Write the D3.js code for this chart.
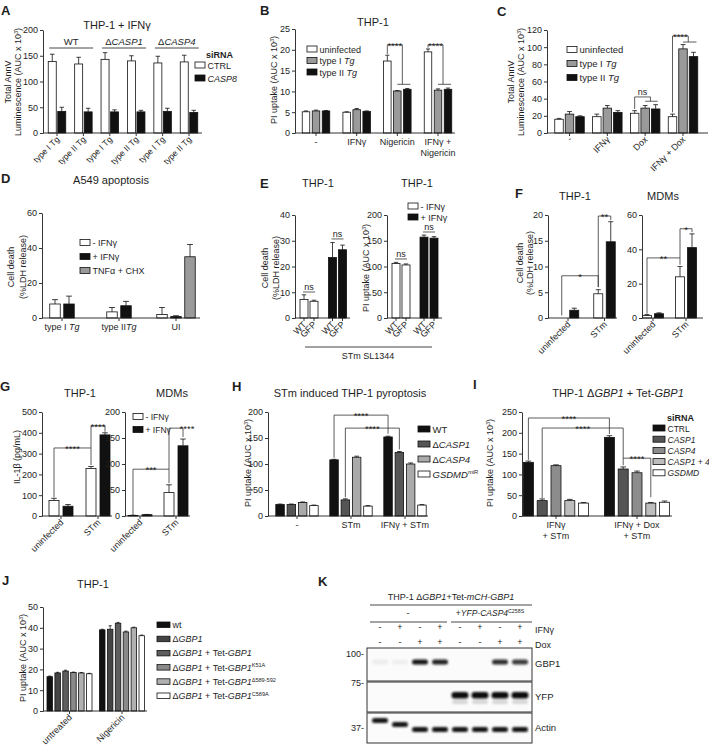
<!DOCTYPE html>
<html>
<head>
<meta charset="utf-8">
<script src="https://cdn.jsdelivr.net/npm/d3@7"></script>
<style>body{margin:0;background:#fff}</style>
</head>
<body>
<script>
// ---------------- data ----------------

// A - THP-1 + IFNg, total AnnV luminescence
const aGenotypes = ["WT", "Δ<i>CASP1</i>", "Δ<i>CASP4</i>"];
const aCategories = ["type I Tg", "type II Tg", "type I Tg", "type II Tg", "type I Tg", "type II Tg"];
const aCtrl = [139, 134, 143, 140, 136, 138];
const aCtrlErr = [14, 13, 13, 10, 13, 13];
const aCasp8 = [42, 41, 41, 41, 42, 40];
const aCasp8Err = [8, 7, 4, 3, 6, 4];

// B - THP-1 PI uptake
const bGroups = ["-", "IFNγ", "Nigericin", "IFNγ +\nNigericin"];
const bUninf = [5.1, 5.0, 17.3, 19.5];
const bUninfErr = [0.2, 0.1, 1.4, 0.7];
const bType1 = [5.3, 5.6, 10.1, 10.3];
const bType1Err = [0.2, 0.3, 0.1, 0.3];
const bType2 = [5.3, 5.2, 10.5, 10.5];
const bType2Err = [0.1, 0.1, 0.2, 0.3];

// C - total AnnV luminescence
const cGroups = ["-", "IFNγ", "Dox", "IFNγ + Dox"];
const cUninf = [16, 19, 23, 19];
const cUninfErr = [1, 3, 3, 3];
const cType1 = [22, 29, 29, 98];
const cType1Err = [3, 3, 3, 5];
const cType2 = [19, 24, 28, 89];
const cType2Err = [1, 2, 5, 5];

// D - A549 apoptosis
const dGroups = ["type I <i>Tg</i>", "type II<i>Tg</i>", "UI"];
const dMinus = [8, 3.5, 2];
const dMinusErr = [2.5, 2.5, 4];
const dPlus = [8, 7, 0.8];
const dPlusErr = [4.5, 2.5, 0.5];
const dTnf = [null, null, 35];
const dTnfErr = [null, null, 7];

// E - STm SL1344 WT vs GFP
const eConditions = ["- IFNγ", "+ IFNγ"];
const eStrains = ["WT", "GFP"];
const eLdhWT = [7.2, 23.5], eLdhWTErr = [1.8, 5.8];
const eLdhGFP = [6.5, 26.5], eLdhGFPErr = [0.4, 1.8];
const ePiWT = [106, 157], ePiWTErr = [2, 4];
const ePiGFP = [103, 155], ePiGFPErr = [2, 3];

// F - cell death, THP-1 and MDMs
const fGroups = ["uninfected", "STm"];
const fThpMinus = [0, 4.7], fThpMinusErr = [0, 0.8];
const fThpPlus = [1.5, 14.8], fThpPlusErr = [0.4, 3.9];
const fMdmMinus = [1.5, 24], fMdmMinusErr = [0.5, 6];
const fMdmPlus = [2.5, 41], fMdmPlusErr = [0.5, 8];

// G - IL-1b
const gGroups = ["uninfected", "STm"];
const gThpMinus = [75, 228], gThpMinusErr = [10, 10];
const gThpPlus = [47, 390], gThpPlusErr = [8, 10];
const gMdmMinus = [1, 45], gMdmMinusErr = [0.5, 15];
const gMdmPlus = [2.5, 135], gMdmPlusErr = [0.5, 13];

// H - STm induced THP-1 pyroptosis
const hGroups = ["-", "STm", "IFNγ + STm"];
const hWT = [22, 108, 152], hWTErr = [1, 1, 1.5];
const hCasp1 = [22, 31, 122], hCasp1Err = [1, 2, 2];
const hCasp4 = [26, 113, 100], hCasp4Err = [1, 2, 2];
const hGsdmd = [20, 19, 21], hGsdmdErr = [1, 1, 1];

// I - THP-1 dGBP1 + Tet-GBP1, siRNA
const iGroups = ["IFNγ\n+ STm", "IFNγ + Dox\n+ STm"];
const iCtrl = [129, 189], iCtrlErr = [3, 4];
const iCasp1 = [37, 113], iCasp1Err = [4, 5];
const iCasp4 = [121, 104], iCasp4Err = [2, 4];
const iCasp14 = [37, 31], iCasp14Err = [3, 1.5];
const iGsdmd = [31, 33], iGsdmdErr = [1.5, 3];

// J - THP-1 PI uptake, GBP1 mutants
const jGroups = ["untreated", "Nigericin"];
const jWt = [16.5, 39], jWtErr = [0.3, 0.3];
const jKo = [18.3, 39.3], jKoErr = [0.3, 1.7];
const jTet = [19.2, 42.2], jTetErr = [0.4, 0.4];
const jK51A = [18.5, 38], jK51AErr = [0.2, 0.4];
const jD589 = [18.3, 40], jD589Err = [0.2, 0.3];
const jC589A = [17.9, 36.2], jC589AErr = [0.2, 0.3];

// K - western blot
const kIfng = ["-", "+", "-", "+", "-", "+", "-", "+"];
const kDox = ["-", "-", "+", "+", "-", "-", "+", "+"];
const kGbp1 = [0.06, 0.05, 1, 0.95, 0, 0, 0.9, 0.85];
const kYfp = [0, 0, 0, 0, 1, 1, 1, 1];
const kActin = [1, 1, 1, 1, 1, 1, 1, 1];
const kActinKDa = [40, 38.7, 37, 37, 37, 37, 37, 37];

// ---------------- drawing ----------------
const FONT = "'Liberation Sans', Arial, Helvetica, sans-serif";
const INK = "#1e1e1e";
const WHITE = "#ffffff", BLACK = "#111111", GRAY = "#9a9a9a";
const FS = 9; // base font size

const svg = d3.select("body").append("svg")
  .attr("width", 709).attr("height", 751)
  .style("font-family", FONT);
svg.append("rect").attr("width", 709).attr("height", 751).attr("fill", "#fff");

// text with <i> and <sup> markup
function rich(sel, str) {
  const parts = str.split(/(<\/?(?:i|sup)>)/).filter(s => s !== "");
  let italic = false, sup = false, dy = 0;
  parts.forEach(p => {
    if (p === "<i>") italic = true;
    else if (p === "</i>") italic = false;
    else if (p === "<sup>") { sup = true; dy = -3.3; }
    else if (p === "</sup>") { sup = false; dy = 3.3; }
    else {
      const t = sel.append("tspan").text(p);
      if (italic) t.style("font-style", "italic");
      if (sup) t.attr("font-size", "0.62em");
      if (dy) { t.attr("dy", dy); dy = 0; }
    }
  });
  return sel;
}

function label(parent, x, y, str, o = {}) {
  const t = parent.append("text")
    .attr("x", x).attr("y", y)
    .attr("font-size", o.size || FS)
    .attr("text-anchor", o.anchor || "start")
    .attr("fill", INK);
  if (o.weight) t.attr("font-weight", o.weight);
  if (o.rotate) t.attr("transform", `rotate(${o.rotate},${x},${y})`);
  return rich(t, str);
}

function legend(parent, x, y, dy, items, o = {}) {
  const bw = o.bw || 10, bh = o.bh || 6;
  items.forEach((it, i) => {
    const yy = y + i * dy;
    parent.append("rect")
      .attr("x", x).attr("y", yy - bh - 0.5).attr("width", bw).attr("height", bh)
      .attr("fill", it.fill).attr("stroke", BLACK).attr("stroke-width", 0.8);
    label(parent, x + bw + 2.5, yy, it.label, { size: o.size || FS });
  });
}

function barPanel(c) {
  const g = svg.append("g");
  const n = c.groups.length;
  const x = d3.scalePoint().domain(d3.range(n)).range(c.centers);
  const y = d3.scaleLinear().domain([0, c.max]).range([c.y0, c.y1]);

  const cx = (gi, si) => {
    const ks = c.series.map((s, k) => k).filter(k => c.series[k].values[gi] != null);
    return x(gi) + (ks.indexOf(si) - (ks.length - 1) / 2) * c.step;
  };

  const flat = [];
  c.series.forEach((s, si) => s.values.forEach((v, gi) => {
    if (v == null) return;
    flat.push({ gi, si, v, e: s.errs[gi], fill: Array.isArray(s.fill) ? s.fill[gi] : s.fill });
  }));

  g.selectAll("rect.bar").data(flat).join("rect")
    .attr("class", "bar")
    .attr("x", d => cx(d.gi, d.si) - c.barW / 2)
    .attr("width", c.barW)
    .attr("y", d => y(d.v))
    .attr("height", d => Math.max(0, y(0) - y(d.v)))
    .attr("fill", d => d.fill)
    .attr("stroke", BLACK).attr("stroke-width", 0.8);

  // error bars (upper whisker only)
  const err = g.selectAll("g.err").data(flat.filter(d => d.e)).join("g").attr("class", "err")
    .attr("stroke", BLACK).attr("stroke-width", 0.8);
  err.append("line")
    .attr("x1", d => cx(d.gi, d.si)).attr("x2", d => cx(d.gi, d.si))
    .attr("y1", d => y(d.v)).attr("y2", d => y(d.v + d.e));
  err.append("line")
    .attr("x1", d => cx(d.gi, d.si) - c.barW * 0.28).attr("x2", d => cx(d.gi, d.si) + c.barW * 0.28)
    .attr("y1", d => y(d.v + d.e)).attr("y2", d => y(d.v + d.e));

  // y axis
  const ya = g.append("g").attr("transform", `translate(${c.x0},0)`)
    .call(d3.axisLeft(y).tickValues(c.ticks).tickSize(3).tickSizeOuter(0).tickPadding(2));
  ya.attr("font-size", FS).attr("font-family", FONT).attr("color", INK);
  ya.selectAll("path, line").attr("stroke-width", 0.9);

  // x axis line + ticks
  g.append("line").attr("x1", c.x0).attr("x2", c.x1).attr("y1", c.y0).attr("y2", c.y0)
    .attr("stroke", INK).attr("stroke-width", 0.9);
  const tickX = c.barTicks
    ? flat.map(d => cx(d.gi, d.si))
    : d3.range(n).map(gi => x(gi));
  g.selectAll("line.xt").data(tickX).join("line").attr("class", "xt")
    .attr("x1", d => d).attr("x2", d => d).attr("y1", c.y0).attr("y2", c.y0 + 3)
    .attr("stroke", INK).attr("stroke-width", 0.9);

  // x labels
  if (c.rot) c.groups.forEach((t, gi) =>
    label(g, x(gi) + 3, c.y0 + 7, t, { anchor: "end", rotate: -45, size: c.xSize || FS }));
  if (c.flat) c.groups.forEach((t, gi) => t.split("\n").forEach((ln, li) =>
    label(g, x(gi), c.y0 + 11.5 + li * 11, ln, { anchor: "middle" })));

  // y label
  if (c.yLabel) c.yLabel.forEach(([t, lx]) =>
    label(g, lx, c.yLabelY, t, { anchor: "middle", rotate: -90 }));

  return { g, x, y, cx };
}

// significance brackets: polylines of [xPixel, value]
function sig(p, segs, text, lxOverride) {
  const lineGen = d3.line().x(d => d[0]).y(d => p.y(d[1]));
  segs.forEach(s => p.g.append("path").attr("d", lineGen(s))
    .attr("fill", "none").attr("stroke", "#333").attr("stroke-width", 0.8));
  const first = segs[0];
  const topV = d3.max(first, d => d[1]);
  const xs = first.filter(d => d[1] === topV).map(d => d[0]);
  const lx = lxOverride != null ? lxOverride : (d3.min(xs) + d3.max(xs)) / 2, ly = p.y(topV);
  if (text === "ns") label(p.g, lx, ly - 1.8, "ns", { anchor: "middle" });
  else label(p.g, lx, ly + 3.8, text, { anchor: "middle", size: 9.5 });
}

function panelLetter(x, y, t) { label(svg, x, y, t, { size: 13, weight: "bold" }); }
function title(x, y, t) { label(svg, x, y, t, { size: 11, anchor: "middle" }); }

// ---------- A ----------
panelLetter(1, 15, "A");
title(117, 29, "THP-1 + IFNγ");
const pA = barPanel({
  x0: 43, x1: 202, y0: 133, y1: 30, max: 200, ticks: [0, 50, 100, 150, 200],
  groups: aCategories, centers: [57, 189], barW: 8, step: 9.5, rot: true, xSize: 8.5,
  series: [
    { values: aCtrl, errs: aCtrlErr, fill: WHITE },
    { values: aCasp8, errs: aCasp8Err, fill: BLACK }
  ],
  yLabel: [["Total AnnV", 11], ["Luminescence  (AUC x 10<sup>3</sup>)", 21]], yLabelY: 82
});
aGenotypes.forEach((t, k) => {
  const xl = pA.cx(2 * k, 0) - 3, xr = pA.cx(2 * k + 1, 1) + 5;
  pA.g.append("line").attr("x1", xl).attr("x2", xr).attr("y1", 48).attr("y2", 48)
    .attr("stroke", "#333").attr("stroke-width", 0.9);
  label(pA.g, (xl + xr) / 2, 45, t, { anchor: "middle", size: 9.5 });
});
label(svg, 206, 58, "siRNA", { weight: "bold" });
legend(svg, 195, 68.5, 13, [{ label: "CTRL", fill: WHITE }, { label: "<i>CASP8</i>", fill: BLACK }]);

// ---------- B ----------
panelLetter(260, 15, "B");
title(373, 26, "THP-1");
const pB = barPanel({
  x0: 295, x1: 455, y0: 133, y1: 29, max: 25, ticks: [0, 5, 10, 15, 20, 25],
  groups: bGroups, centers: [316, 438], barW: 7.5, step: 10, flat: true,
  series: [
    { values: bUninf, errs: bUninfErr, fill: WHITE },
    { values: bType1, errs: bType1Err, fill: GRAY },
    { values: bType2, errs: bType2Err, fill: BLACK }
  ],
  yLabel: [["PI uptake (AUC x 10<sup>3</sup>)", 277]], yLabelY: 80
});
[[2, 19.0], [3, 20.5]].forEach(([gi, v0]) => {
  const mid = (pB.cx(gi, 1) + pB.cx(gi, 2)) / 2;
  sig(pB, [[[pB.cx(gi, 0), v0], [pB.cx(gi, 0), 21.2], [mid, 21.2], [mid, 11.7]],
           [[pB.cx(gi, 1), 11.7], [pB.cx(gi, 2) + 3, 11.7]]], "****");
});
legend(svg, 307, 52.5, 11.5, [
  { label: "uninfected", fill: WHITE },
  { label: "type I <i>Tg</i>", fill: GRAY },
  { label: "type II <i>Tg</i>", fill: BLACK }
]);

// ---------- C ----------
panelLetter(497, 16, "C");
const pC = barPanel({
  x0: 547, x1: 708, y0: 133, y1: 30, max: 120, ticks: [0, 20, 40, 60, 80, 100, 120],
  groups: cGroups, centers: [569.5, 683], barW: 8.5, step: 10.5, rot: true,
  series: [
    { values: cUninf, errs: cUninfErr, fill: WHITE },
    { values: cType1, errs: cType1Err, fill: GRAY },
    { values: cType2, errs: cType2Err, fill: BLACK }
  ],
  yLabel: [["Total AnnV", 514], ["Luminescence  (AUC x 10<sup>3</sup>)", 524]], yLabelY: 82
});
{
  const m2 = (pC.cx(2, 1) + pC.cx(2, 2)) / 2;
  sig(pC, [[[pC.cx(2, 0), 28], [pC.cx(2, 0), 42], [m2, 42], [m2, 37]],
           [[pC.cx(2, 1), 37], [pC.cx(2, 2) + 2, 37]]], "ns");
  const m3 = (pC.cx(3, 1) + pC.cx(3, 2)) / 2;
  sig(pC, [[[pC.cx(3, 0), 24], [pC.cx(3, 0), 113], [m3, 113], [m3, 106]],
           [[pC.cx(3, 1), 106], [pC.cx(3, 2) + 3, 106]]], "****");
}
legend(svg, 567, 53, 14, [
  { label: "uninfected", fill: WHITE },
  { label: "type I <i>Tg</i>", fill: GRAY },
  { label: "type II <i>Tg</i>", fill: BLACK }
], { size: 9.5 });

// ---------- D ----------
panelLetter(1, 183, "D");
title(111, 184, "A549 apoptosis");
barPanel({
  x0: 42, x1: 200, y0: 318, y1: 213, max: 60, ticks: [0, 20, 40, 60],
  groups: dGroups, centers: [62, 176], barW: 10.5, step: 14, flat: true,
  series: [
    { values: dMinus, errs: dMinusErr, fill: WHITE },
    { values: dPlus, errs: dPlusErr, fill: BLACK },
    { values: dTnf, errs: dTnfErr, fill: GRAY }
  ],
  yLabel: [["Cell death", 14], ["(%LDH release)", 26]], yLabelY: 267
});
legend(svg, 80, 246, 14, [
  { label: "- IFNγ", fill: WHITE },
  { label: "+ IFNγ", fill: BLACK },
  { label: "TNFα + CHX", fill: GRAY }
]);

// ---------- E ----------
panelLetter(260, 188, "E");
title(318, 187, "THP-1");
title(417, 187, "THP-1");
const eFills = [WHITE, BLACK];
const pE1 = barPanel({
  x0: 295, x1: 350, y0: 318, y1: 215, max: 40, ticks: [0, 10, 20, 30, 40],
  groups: eConditions, centers: [309, 337.5], barW: 8, step: 10, barTicks: true,
  series: [
    { values: eLdhWT, errs: eLdhWTErr, fill: eFills },
    { values: eLdhGFP, errs: eLdhGFPErr, fill: eFills }
  ],
  yLabel: [["Cell death", 268], ["(%LDH release)", 279]], yLabelY: 268
});
const pE2 = barPanel({
  x0: 387, x1: 442, y0: 318, y1: 215, max: 200, ticks: [0, 50, 100, 150, 200],
  groups: eConditions, centers: [401, 429], barW: 8, step: 10, barTicks: true,
  series: [
    { values: ePiWT, errs: ePiWTErr, fill: eFills },
    { values: ePiGFP, errs: ePiGFPErr, fill: eFills }
  ],
  yLabel: [["PI uptake (AUC x 10<sup>3</sup>)", 369]], yLabelY: 268
});
[[pE1, [10.1, 30.7]], [pE2, [114.6, 167]]].forEach(([p, lv]) => {
  lv.forEach((v, gi) => {
    sig(p, [[[p.cx(gi, 0) - 1, v], [p.cx(gi, 1) + 1, v]]], "ns");
    eStrains.forEach((s, si) =>
      label(p.g, p.cx(gi, si) + 3, 325, s, { anchor: "end", rotate: -45 }));
  });
});
svg.append("line").attr("x1", 305).attr("x2", 432).attr("y1", 347).attr("y2", 347)
  .attr("stroke", "#444").attr("stroke-width", 1);
label(svg, 368, 359, "STm SL1344", { anchor: "middle" });
legend(svg, 408, 209.5, 11, [{ label: "- IFNγ", fill: WHITE }, { label: "+ IFNγ", fill: BLACK }]);

// ---------- F ----------
panelLetter(515, 198, "F");
title(575, 200, "THP-1");
title(663, 200, "MDMs");
const pF1 = barPanel({
  x0: 548, x1: 617, y0: 318, y1: 215, max: 20, ticks: [0, 5, 10, 15, 20],
  groups: fGroups, centers: [568, 604.5], barW: 9, step: 12.5, rot: true,
  series: [
    { values: fThpMinus, errs: fThpMinusErr, fill: WHITE },
    { values: fThpPlus, errs: fThpPlusErr, fill: BLACK }
  ],
  yLabel: [["Cell death", 523], ["(%LDH release)", 533]], yLabelY: 263
});
sig(pF1, [[[pF1.cx(0, 0), 0.5], [pF1.cx(0, 0), 8.2], [pF1.cx(1, 0), 8.2], [pF1.cx(1, 0), 6.0]]], "*");
sig(pF1, [[[pF1.cx(1, 0), 6.0], [pF1.cx(1, 0), 19.8], [pF1.cx(1, 1), 19.8], [pF1.cx(1, 1), 19.0]]], "**");
const pF2 = barPanel({
  x0: 642, x1: 703, y0: 318, y1: 215, max: 60, ticks: [0, 20, 40, 60],
  groups: fGroups, centers: [653, 686], barW: 9, step: 12, rot: true,
  series: [
    { values: fMdmMinus, errs: fMdmMinusErr, fill: WHITE },
    { values: fMdmPlus, errs: fMdmPlusErr, fill: BLACK }
  ]
});
sig(pF2, [[[pF2.cx(0, 0), 2.5], [pF2.cx(0, 0), 35], [pF2.cx(1, 0), 35], [pF2.cx(1, 0), 31]]], "**");
sig(pF2, [[[pF2.cx(1, 0), 35], [pF2.cx(1, 0), 52], [pF2.cx(1, 1), 52], [pF2.cx(1, 1), 50]]], "*");

// ---------- G ----------
panelLetter(0, 391, "G");
title(80, 397, "THP-1");
title(172, 397, "MDMs");
const pG1 = barPanel({
  x0: 42, x1: 112, y0: 516, y1: 412, max: 500, ticks: [0, 100, 200, 300, 400, 500],
  groups: gGroups, centers: [61, 98], barW: 10, step: 14, rot: true,
  series: [
    { values: gThpMinus, errs: gThpMinusErr, fill: WHITE },
    { values: gThpPlus, errs: gThpPlusErr, fill: BLACK }
  ],
  yLabel: [["IL-1β (pg/mL)", 20]], yLabelY: 457
});
sig(pG1, [[[pG1.cx(0, 0), 90], [pG1.cx(0, 0), 327], [pG1.cx(1, 0), 327], [pG1.cx(1, 0), 245]]], "****");
sig(pG1, [[[pG1.cx(1, 0), 327], [pG1.cx(1, 0), 433], [pG1.cx(1, 1), 433], [pG1.cx(1, 1), 405]]], "****");
const pG2 = barPanel({
  x0: 125, x1: 190, y0: 516, y1: 412, max: 200, ticks: [0, 50, 100, 150, 200],
  groups: gGroups, centers: [140, 176], barW: 10, step: 14, rot: true,
  series: [
    { values: gMdmMinus, errs: gMdmMinusErr, fill: WHITE },
    { values: gMdmPlus, errs: gMdmPlusErr, fill: BLACK }
  ]
});
sig(pG2, [[[pG2.cx(0, 0), 2], [pG2.cx(0, 0), 90], [pG2.cx(1, 0), 90], [pG2.cx(1, 0), 63]]], "***");
sig(pG2, [[[pG2.cx(1, 0), 90], [pG2.cx(1, 0), 169], [pG2.cx(1, 1), 169], [pG2.cx(1, 1), 152]]], "****", 187);
legend(svg, 133, 420, 13, [{ label: "- IFNγ", fill: WHITE }, { label: "+ IFNγ", fill: BLACK }], { size: 8.5 });

// ---------- H ----------
panelLetter(232, 391, "H");
title(350, 397, "STm induced THP-1 pyroptosis");
const pH = barPanel({
  x0: 268, x1: 428, y0: 516, y1: 412, max: 200, ticks: [0, 50, 100, 150, 200],
  groups: hGroups, centers: [297, 405], barW: 8.5, step: 11.3, flat: true,
  series: [
    { values: hWT, errs: hWTErr, fill: BLACK },
    { values: hCasp1, errs: hCasp1Err, fill: "#555" },
    { values: hCasp4, errs: hCasp4Err, fill: "#aaa" },
    { values: hGsdmd, errs: hGsdmdErr, fill: WHITE }
  ],
  yLabel: [["PI uptake (AUC x 10<sup>3</sup>)", 251]], yLabelY: 463
});
sig(pH, [[[pH.cx(1, 0), 112], [pH.cx(1, 0), 194], [pH.cx(2, 0), 194], [pH.cx(2, 0), 158]]], "****");
sig(pH, [[[pH.cx(1, 1), 36], [pH.cx(1, 1), 169], [pH.cx(2, 1), 169], [pH.cx(2, 1), 128]]], "****");
legend(svg, 418, 432.5, 15, [
  { label: "WT", fill: BLACK },
  { label: "Δ<i>CASP1</i>", fill: "#555" },
  { label: "Δ<i>CASP4</i>", fill: "#aaa" },
  { label: "<i>GSDMD</i><sup>miR</sup>", fill: WHITE }
], { bw: 12, size: 9.5 });

// ---------- I ----------
panelLetter(473, 389, "I");
title(618, 397, "THP-1 Δ<i>GBP1</i> + Tet-<i>GBP1</i>");
const pI = barPanel({
  x0: 522, x1: 672, y0: 516, y1: 412, max: 250, ticks: [0, 50, 100, 150, 200, 250],
  groups: iGroups, centers: [556, 637], barW: 10, step: 13.8, flat: true,
  series: [
    { values: iCtrl, errs: iCtrlErr, fill: BLACK },
    { values: iCasp1, errs: iCasp1Err, fill: "#555" },
    { values: iCasp4, errs: iCasp4Err, fill: "#8c8c8c" },
    { values: iCasp14, errs: iCasp14Err, fill: "#bdbdbd" },
    { values: iGsdmd, errs: iGsdmdErr, fill: WHITE }
  ],
  yLabel: [["PI uptake (AUC x 10<sup>3</sup>)", 493]], yLabelY: 463
});
sig(pI, [[[pI.cx(0, 0), 135], [pI.cx(0, 0), 235.6], [pI.cx(1, 0), 235.6], [pI.cx(1, 0), 197]]], "****");
sig(pI, [[[pI.cx(0, 1), 43], [pI.cx(0, 1), 211.5], [pI.cx(1, 1), 211.5], [pI.cx(1, 1), 122]]], "****");
sig(pI, [[[pI.cx(1, 1), 139], [pI.cx(1, 3), 139], [pI.cx(1, 3), 45]]], "****");
label(svg, 667, 421, "siRNA", { weight: "bold" });
legend(svg, 653, 431.5, 11.2, [
  { label: "CTRL", fill: BLACK },
  { label: "<i>CASP1</i>", fill: "#555" },
  { label: "<i>CASP4</i>", fill: "#8c8c8c" },
  { label: "<i>CASP1 + 4</i>", fill: "#bdbdbd" },
  { label: "<i>GSDMD</i>", fill: WHITE }
], { bw: 12, size: 8.5 });

// ---------- J ----------
panelLetter(2, 585, "J");
title(93, 588, "THP-1");
const jFills = [BLACK, "#444", "#5e5e5e", "#8a8a8a", "#b0b0b0", WHITE];
barPanel({
  x0: 43, x1: 147, y0: 711, y1: 607, max: 50, ticks: [0, 10, 20, 30, 40, 50],
  groups: jGroups, centers: [69.5, 122], barW: 5.5, step: 7.9, rot: true,
  series: [
    { values: jWt, errs: jWtErr, fill: jFills[0] },
    { values: jKo, errs: jKoErr, fill: jFills[1] },
    { values: jTet, errs: jTetErr, fill: jFills[2] },
    { values: jK51A, errs: jK51AErr, fill: jFills[3] },
    { values: jD589, errs: jD589Err, fill: jFills[4] },
    { values: jC589A, errs: jC589AErr, fill: jFills[5] }
  ],
  yLabel: [["PI uptake (AUC x 10<sup>3</sup>)", 26]], yLabelY: 658
});
legend(svg, 157, 628, 14.2, [
  { label: "wt", fill: jFills[0] },
  { label: "Δ<i>GBP1</i>", fill: jFills[1] },
  { label: "Δ<i>GBP1</i> + Tet-<i>GBP1</i>", fill: jFills[2] },
  { label: "Δ<i>GBP1</i> + Tet-<i>GBP1</i><sup>K51A</sup>", fill: jFills[3] },
  { label: "Δ<i>GBP1</i> + Tet-<i>GBP1</i><sup>Δ589-592</sup>", fill: jFills[4] },
  { label: "Δ<i>GBP1</i> + Tet-<i>GBP1</i><sup>C589A</sup>", fill: jFills[5] }
], { bw: 13, bh: 5.5 });

// ---------- K ----------
panelLetter(318, 586, "K");
const kg = svg.append("g");
const defs = svg.append("defs");
defs.append("filter").attr("id", "blur").attr("x", "-20%").attr("y", "-50%").attr("width", "140%").attr("height", "200%")
  .append("feGaussianBlur").attr("stdDeviation", 0.9);
const kx = d3.scalePoint().domain(d3.range(8)).range([380, 520]);
const kLeft = 367, kRight = 532;

label(kg, 451, 600, "THP-1 Δ<i>GBP1</i>+Tet-<i>mCH-GBP1</i>", { anchor: "middle" });
kg.append("line").attr("x1", 370).attr("x2", kRight).attr("y1", 605).attr("y2", 605).attr("stroke", "#333").attr("stroke-width", 0.9);
label(kg, 408, 616, "-", { anchor: "middle" });
label(kg, 490, 616, "+<i>YFP-CASP4</i><sup>C258S</sup>", { anchor: "middle", size: 8.5 });
kg.append("line").attr("x1", 370).attr("x2", 447).attr("y1", 622).attr("y2", 622).attr("stroke", "#333").attr("stroke-width", 0.9);
kg.append("line").attr("x1", 451).attr("x2", kRight).attr("y1", 622).attr("y2", 622).attr("stroke", "#333").attr("stroke-width", 0.9);
kIfng.forEach((s, i) => label(kg, kx(i), 630, s, { anchor: "middle" }));
kDox.forEach((s, i) => label(kg, kx(i), 645, s, { anchor: "middle" }));
label(kg, 535, 633, "IFNγ");
label(kg, 535, 648, "Dox");

const strips = [
  { name: "GBP1", marker: "100-", top: 648, bottom: 681, mk: 657, lab: 667 },
  { name: "YFP", marker: "75-", top: 682, bottom: 712, mk: 686, lab: 700 },
  { name: "Actin", marker: "37-", top: 713, bottom: 743, mk: 731, lab: 731 }
];
strips.forEach(s => {
  kg.append("rect").attr("x", kLeft).attr("y", s.top).attr("width", kRight - kLeft).attr("height", s.bottom - s.top)
    .attr("fill", "#fbfbfb").attr("stroke", "#333").attr("stroke-width", 1);
  label(kg, 364, s.mk, s.marker, { anchor: "end" });
  label(kg, 535, s.lab, s.name, { size: 9.5 });
});
const kdaY = d3.scaleLinear().domain([37, 40]).range([729.5, 720.5]);
const bandG = kg.append("g").attr("filter", "url(#blur)");
bandG.selectAll("rect.gbp1").data(kGbp1).join("rect")
  .attr("x", (d, i) => kx(i) - 8).attr("y", 659.5).attr("width", 16).attr("height", 5).attr("rx", 2.5)
  .attr("fill", "#151515").attr("opacity", d => d);
bandG.selectAll("rect.yfp").data(kYfp).join("rect")
  .attr("x", (d, i) => kx(i) - 8.5).attr("y", 692).attr("width", 17).attr("height", 6.5).attr("rx", 3)
  .attr("fill", "#101010").attr("opacity", d => d);
bandG.selectAll("rect.yfps").data(kYfp).join("rect")
  .attr("x", (d, i) => kx(i) - 8).attr("y", 700).attr("width", 16).attr("height", 4).attr("rx", 2)
  .attr("fill", "#101010").attr("opacity", d => d * 0.15);
bandG.selectAll("rect.actin").data(kActin).join("rect")
  .attr("x", (d, i) => kx(i) - 8).attr("y", (d, i) => kdaY(kActinKDa[i]) - 2.5).attr("width", 16).attr("height", 5).attr("rx", 2.5)
  .attr("fill", "#151515").attr("opacity", d => d);
</script>
</body>
</html>
